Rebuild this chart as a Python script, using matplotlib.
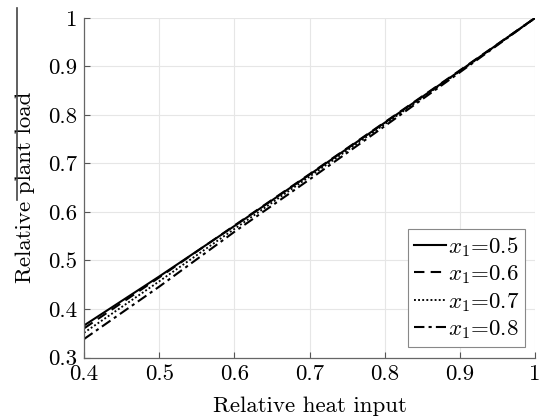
import matplotlib
matplotlib.use("Agg")
import matplotlib.pyplot as plt
from matplotlib.lines import Line2D

plt.rcParams['font.family'] = 'serif'
plt.rcParams['font.serif'] = ['cmr10', 'DejaVu Serif']
plt.rcParams['mathtext.fontset'] = 'cm'
plt.rcParams['axes.formatter.use_mathtext'] = True
plt.rcParams['axes.unicode_minus'] = False

heat_input = [0.4, 0.5, 0.6, 0.7, 0.8, 0.9, 1.0]
load_x05 = [0.366, 0.467, 0.571, 0.677, 0.784, 0.891, 1.0]
load_x06 = [0.360, 0.465, 0.572, 0.678, 0.785, 0.892, 1.0]
load_x07 = [0.351, 0.457, 0.565, 0.673, 0.781, 0.890, 1.0]
load_x08 = [0.338, 0.446, 0.559, 0.667, 0.777, 0.888, 1.0]
labels = ['$x_1$=0.5', '$x_1$=0.6', '$x_1$=0.7', '$x_1$=0.8']
xticks = [0.4, 0.5, 0.6, 0.7, 0.8, 0.9, 1.0]
xticklabels = ['0.4', '0.5', '0.6', '0.7', '0.8', '0.9', '1']
yticks = [0.3, 0.4, 0.5, 0.6, 0.7, 0.8, 0.9, 1.0]
yticklabels = ['0.3', '0.4', '0.5', '0.6', '0.7', '0.8', '0.9', '1']

fs = 16.5
fig = plt.figure(figsize=(5.46, 4.19), dpi=100)
ax = fig.add_axes([84/546, 1-357.5/419, (535-84)/546, (357.5-18)/419])

lw = 1.5
ax.plot(heat_input, load_x05, color='black', lw=lw, ls='-', label=labels[0])
ax.plot(heat_input, load_x06, color='black', lw=lw, ls=(0, (5, 3)), label=labels[1])
ax.plot(heat_input, load_x07, color='black', lw=lw*0.9, ls=(0, (1, 1.2)), label=labels[2])
ax.plot(heat_input, load_x08, color='black', lw=lw, ls=(0, (5, 2, 1.5, 2)), label=labels[3])

ax.set_xlim(0.4, 1.0)
ax.set_ylim(0.3, 1.0)
ax.set_xticks(xticks)
ax.set_xticklabels(xticklabels)
ax.set_yticks(yticks)
ax.set_yticklabels(yticklabels)
ax.tick_params(direction='in', length=4, width=0.8, color='#555555', labelsize=fs, pad=5)
ax.grid(True, color='#e6e6e6', lw=0.8)
ax.set_axisbelow(True)
for s in ['top', 'right']:
    ax.spines[s].set_visible(False)
for s in ['left', 'bottom']:
    ax.spines[s].set_color('#666666')
    ax.spines[s].set_linewidth(0.9)

ax.set_xlabel('Relative heat input', fontsize=fs)
ax.set_ylabel('Relative plant load', fontsize=fs)
ax.xaxis.set_label_coords(0.5, -0.115)
ax.yaxis.set_label_coords(-0.131, 0.5)
ax.yaxis.label.set_va('center')
ax.xaxis.label.set_va('top')

leg = ax.legend(loc='lower right', bbox_to_anchor=(0.978, 0.031), borderaxespad=0,
                fontsize=fs, fancybox=False, framealpha=1, edgecolor='#888888',
                handlelength=1.4, handletextpad=0.1, labelspacing=0.2,
                borderpad=0.25)
leg.get_frame().set_linewidth(0.8)

fig.add_artist(Line2D([17/546, 17/546], [1-8/419, 1-200/419], color='#444444', lw=1.2,
                      transform=fig.transFigure))

fig.savefig('out.png', dpi=100)
